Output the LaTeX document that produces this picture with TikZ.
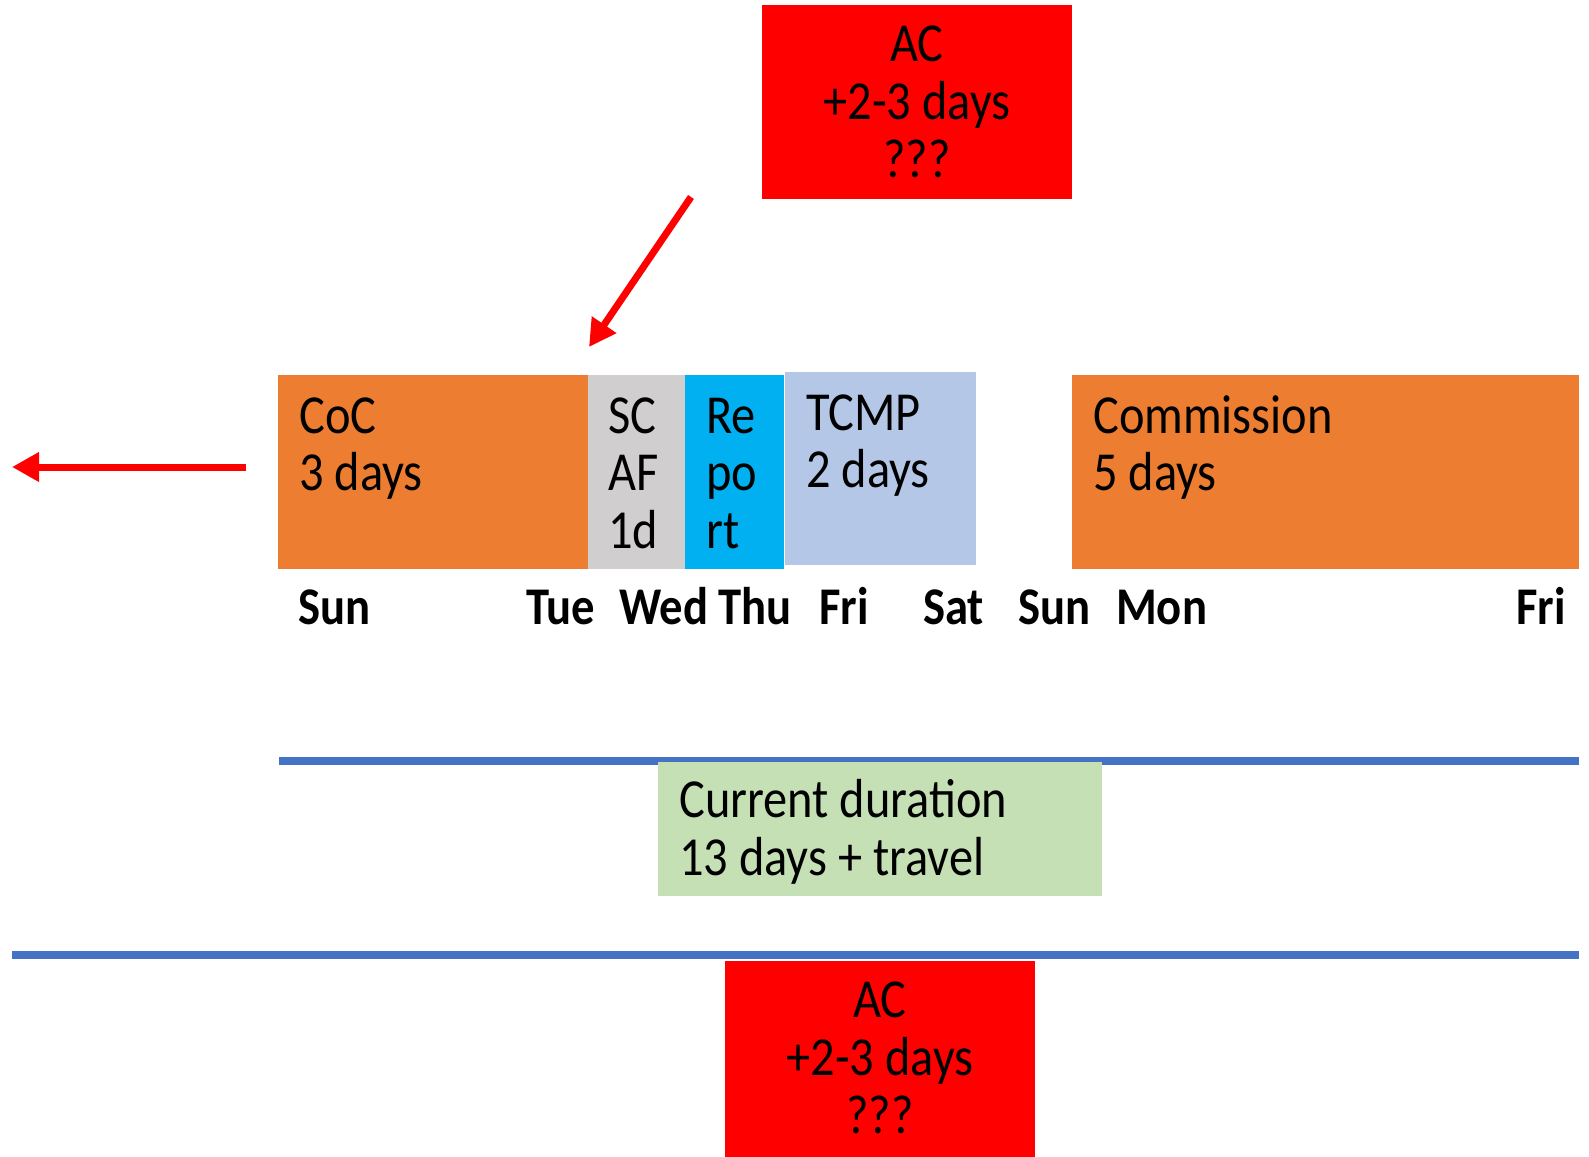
\documentclass[tikz,border=0pt]{standalone}
\usepackage{fontspec}
\setmainfont{Carlito}[FakeStretch=0.88]
\usetikzlibrary{arrows.meta}
\definecolor{cocorange}{HTML}{ED7D31}
\definecolor{scgrey}{HTML}{D0CECE}
\definecolor{repblue}{HTML}{00B0F0}
\definecolor{tcmpblue}{HTML}{B4C7E7}
\definecolor{durgreen}{HTML}{C5E0B4}
\definecolor{lineblue}{HTML}{4472C4}
\definecolor{acred}{HTML}{FF0000}
\begin{document}
\begin{tikzpicture}[x=1pt,y=-1pt,
  box/.style={draw=none, inner sep=0pt, outer sep=0pt, anchor=north west},
  txt/.style={inner sep=0pt, anchor=base west, font=\fontsize{55}{58}\selectfont},
  ctxt/.style={inner sep=0pt, anchor=base, font=\fontsize{55}{58}\selectfont},
  daylbl/.style={inner sep=0pt, anchor=base west, font=\fontsize{53}{58}\selectfont\bfseries},
  redarrow/.style={draw=acred, line width=7pt, -{Triangle[length=27pt,width=28pt]}},
  blueline/.style={draw=lineblue, line width=8pt}]
\useasboundingbox (0,0) rectangle (1589,1156);

% blue lines
\coordinate (l1a) at (279,761); \coordinate (l1b) at (1579,761);
\coordinate (l2a) at (12,955); \coordinate (l2b) at (1579,955);
\draw[blueline] (l1a) -- (l1b);
\draw[blueline] (l2a) -- (l2b);

% boxes
\node[box, fill=acred, minimum width=310pt, minimum height=194pt] (actop) at (762,5) {};
\node[box, fill=cocorange, minimum width=310pt, minimum height=194pt] (coc) at (278,375) {};
\node[box, fill=scgrey, minimum width=97pt, minimum height=194pt] (scaf) at (588,375) {};
\node[box, fill=repblue, minimum width=99pt, minimum height=194pt] (report) at (685,375) {};
\node[box, fill=tcmpblue, minimum width=191pt, minimum height=193pt] (tcmp) at (785,372) {};
\node[box, fill=cocorange, minimum width=507pt, minimum height=194pt] (comm) at (1072,375) {};
\node[box, fill=durgreen, minimum width=444pt, minimum height=134pt] (dur) at (658,762) {};
\node[box, fill=acred, minimum width=310pt, minimum height=196pt] (acbot) at (725,961) {};

% texts
\node[ctxt] (actop1) at (917,61) {AC};
\node[ctxt] (actop2) at (917,119) {+2-3 days};
\node[ctxt] (actop3) at (917,177) {???};

\node[txt] (coc1) at (299,433) {CoC};
\node[txt] (coc2) at (299,490) {3 days};
\node[txt] (scaf1) at (608,433) {SC};
\node[txt] (scaf2) at (608,490) {AF};
\node[txt] (scaf3) at (608,548) {1d};
\node[txt] (rep1) at (706,433) {Re};
\node[txt] (rep2) at (706,490) {po};
\node[txt] (rep3) at (706,548) {rt};
\node[txt] (tcmp1) at (806,430) {TCMP};
\node[txt] (tcmp2) at (806,487) {2 days};
\node[txt] (comm1) at (1093,433) {Commission};
\node[txt] (comm2) at (1093,490) {5 days};

\node[daylbl] (d1) at (298,624) {Sun};
\node[daylbl] (d2) at (526,624) {Tue};
\node[daylbl] (d3) at (619,624) {Wed};
\node[daylbl] (d4) at (718,624) {Thu};
\node[daylbl] (d5) at (819,624) {Fri};
\node[daylbl] (d6) at (923,624) {Sat};
\node[daylbl] (d7) at (1018,624) {Sun};
\node[daylbl] (d8) at (1116,624) {Mon};
\node[daylbl] (d9) at (1516,624) {Fri};

\node[txt] (dur1) at (679,817) {Current duration};
\node[txt] (dur2) at (679,875) {13 days + travel};

\node[ctxt] (acbot1) at (880,1017) {AC};
\node[ctxt] (acbot2) at (880,1075) {+2-3 days};
\node[ctxt] (acbot3) at (880,1133) {???};

% arrows
\coordinate (da) at (691,197); \coordinate (db) at (589,347);
\coordinate (la) at (246,467); \coordinate (lb) at (12,467);
\draw[redarrow] (da) -- (db);
\draw[redarrow] (la) -- (lb);
\end{tikzpicture}
\end{document}
